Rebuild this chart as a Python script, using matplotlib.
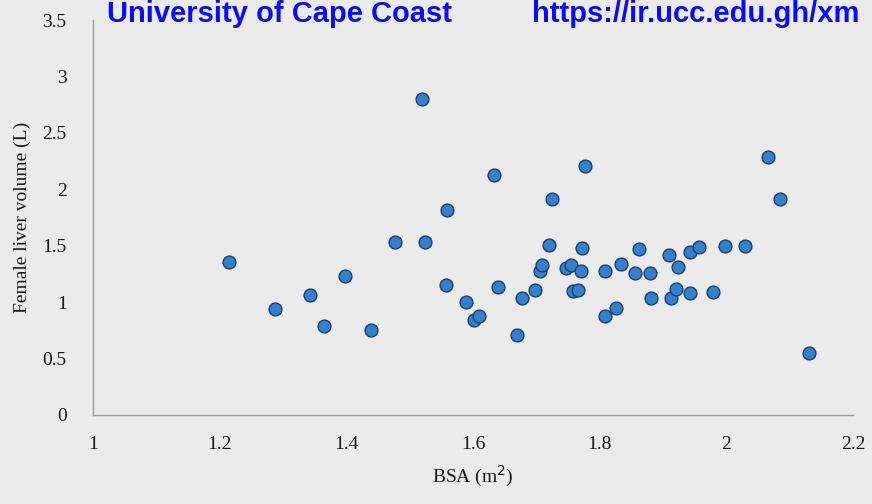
import matplotlib
matplotlib.use("Agg")
import matplotlib.pyplot as plt

# body surface area (m^2) and female liver volume (L)
bsa = [1.215, 1.288, 1.343, 1.365, 1.398, 1.439, 1.476, 1.520, 1.524, 1.559,
       1.558, 1.589, 1.602, 1.610, 1.633, 1.640, 1.670, 1.678, 1.698, 1.706,
       1.709, 1.720, 1.725, 1.746, 1.755, 1.758, 1.765, 1.770, 1.772, 1.777,
       1.809, 1.809, 1.825, 1.833, 1.855, 1.862, 1.880, 1.881, 1.910, 1.912,
       1.921, 1.924, 1.942, 1.942, 1.957, 1.979, 1.998, 2.030, 2.065, 2.084,
       2.131]
liver_vol = [1.36, 0.94, 1.06, 0.79, 1.23, 0.75, 1.53, 2.80, 1.53, 1.82,
             1.15, 1.00, 0.84, 0.88, 2.13, 1.13, 0.71, 1.04, 1.11, 1.28,
             1.33, 1.51, 1.91, 1.30, 1.33, 1.10, 1.11, 1.28, 1.48, 2.21,
             1.28, 0.88, 0.95, 1.34, 1.26, 1.47, 1.26, 1.04, 1.42, 1.04,
             1.12, 1.31, 1.08, 1.44, 1.49, 1.09, 1.50, 1.50, 2.29, 1.91,
             0.55]

x_ticks = [1, 1.2, 1.4, 1.6, 1.8, 2, 2.2]
x_labels = ["1", "1.2", "1.4", "1.6", "1.8", "2", "2.2"]
y_ticks = [0, 0.5, 1, 1.5, 2, 2.5, 3, 3.5]
y_labels = ["0", "0.5", "1", "1.5", "2", "2.5", "3", "3.5"]

bg = "#ebebeb"
fig = plt.figure(figsize=(8.72, 5.04), dpi=100)
fig.patch.set_facecolor(bg)
ax = fig.add_axes([0.1067, 0.1766, 0.8716, 0.7837])
ax.set_facecolor(bg)

ax.scatter(bsa, liver_vol, s=85, color="#3580cc", edgecolors="#1d3f6e",
           linewidths=1.0, zorder=3)

ax.set_xlim(1, 2.2)
ax.set_ylim(0, 3.5)
ax.set_xticks(x_ticks)
ax.set_xticklabels(x_labels)
ax.set_yticks(y_ticks)
ax.set_yticklabels(y_labels)
ax.tick_params(length=0, labelsize=14, colors="#1a1a1a")
ax.tick_params(axis="x", pad=15)
ax.tick_params(axis="y", pad=19)
for lab in ax.get_xticklabels() + ax.get_yticklabels():
    lab.set_fontfamily("Liberation Serif")

for side in ["top", "right"]:
    ax.spines[side].set_visible(False)
for side in ["left", "bottom"]:
    ax.spines[side].set_color("#9a9a9a")
    ax.spines[side].set_linewidth(1.0)

ax.set_xlabel("BSA (m$^2$)", fontsize=14, family="Liberation Serif",
              color="#1a1a1a", labelpad=8)
ax.set_ylabel("Female liver volume (L)", fontsize=14, family="Liberation Serif",
              color="#1a1a1a", labelpad=8)

# repository watermark across the top
fig.text(0.123, 0.957, "University of Cape Coast", fontsize=21, fontweight="bold",
         family="Liberation Sans", color="#0a0aff", va="baseline")
fig.text(0.61, 0.957, "https://ir.ucc.edu.gh/xm", fontsize=21, fontweight="bold",
         family="Liberation Sans", color="#0a0aff", va="baseline")

fig.savefig("out.png", dpi=100, facecolor=bg)
